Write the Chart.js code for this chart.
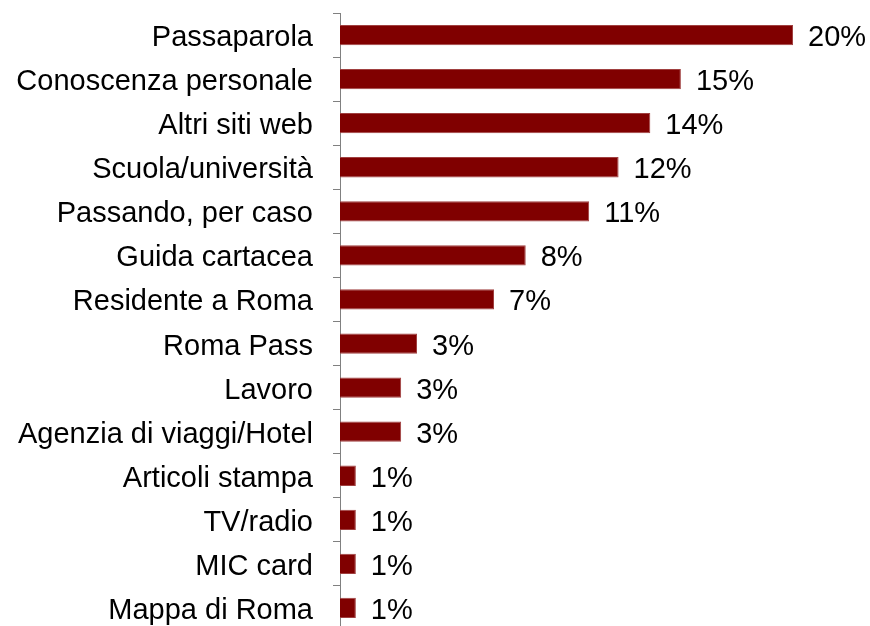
<!DOCTYPE html>
<html>
<head>
<meta charset="utf-8">
<script src="https://cdn.jsdelivr.net/npm/chart.js@4"></script>
<style>
  html, body { margin: 0; padding: 0; background: #fff; overflow: hidden; }
  #wrap { width: 870px; height: 626px; overflow: hidden; }
</style>
</head>
<body>
<div id="wrap"><canvas id="myChart" width="870" height="630"></canvas></div>
<script>
var categories = ["Passaparola", "Conoscenza personale", "Altri siti web", "Scuola/università",
  "Passando, per caso", "Guida cartacea", "Residente a Roma", "Roma Pass", "Lavoro",
  "Agenzia di viaggi/Hotel", "Articoli stampa", "TV/radio", "MIC card", "Mappa di Roma"];
var values = [20, 15.05, 13.7, 12.3, 11, 8.2, 6.8, 3.4, 2.7, 2.7, 0.7, 0.7, 0.7, 0.7];
var valueLabels = ["20%", "15%", "14%", "12%", "11%", "8%", "7%", "3%", "3%", "3%", "1%", "1%", "1%", "1%"];

// scrive le percentuali a destra delle barre
var barLabels = {
  id: 'barLabels',
  afterDatasetsDraw: function (chart) {
    var ctx = chart.ctx;
    var meta = chart.getDatasetMeta(0);
    ctx.save();
    ctx.font = '29px "Liberation Sans", Arial, sans-serif';
    ctx.fillStyle = '#000';
    ctx.textAlign = 'left';
    ctx.textBaseline = 'middle';
    for (var i = 0; i < meta.data.length; i++) {
      var bar = meta.data[i];
      ctx.fillText(valueLabels[i], bar.x + 15, bar.y + 3);
    }
    ctx.restore();
  }
};

var ctx = document.getElementById('myChart').getContext('2d');
var myChart = new Chart(ctx, {
  type: 'bar',
  data: {
    labels: categories,
    datasets: [{
      data: values,
      backgroundColor: '#800000',
      borderColor: '#a04040',
      borderWidth: 1,
      borderSkipped: 'left',
      barPercentage: 0.46,
      categoryPercentage: 1
    }]
  },
  options: {
    indexAxis: 'y',
    responsive: false,
    animation: false,
    layout: { padding: { top: 13, right: 77, bottom: 0, left: 0 } },
    plugins: { legend: { display: false }, tooltip: { enabled: false } },
    scales: {
      x: { display: false, min: 0, max: 20 },
      y: {
        offset: true,
        afterFit: function (scale) {
          scale.width = 340;
          scale.paddingTop = 0;
          scale.paddingBottom = 0;
        },
        border: { display: true, color: '#808080', width: 1 },
        grid: { offset: true, drawOnChartArea: false, drawTicks: true, tickLength: 7, color: '#808080' },
        ticks: {
          color: '#000',
          padding: 20,
          labelOffset: 3,
          font: { family: '"Liberation Sans", Arial, sans-serif', size: 29 }
        }
      }
    }
  },
  plugins: [barLabels]
});
</script>
</body>
</html>
